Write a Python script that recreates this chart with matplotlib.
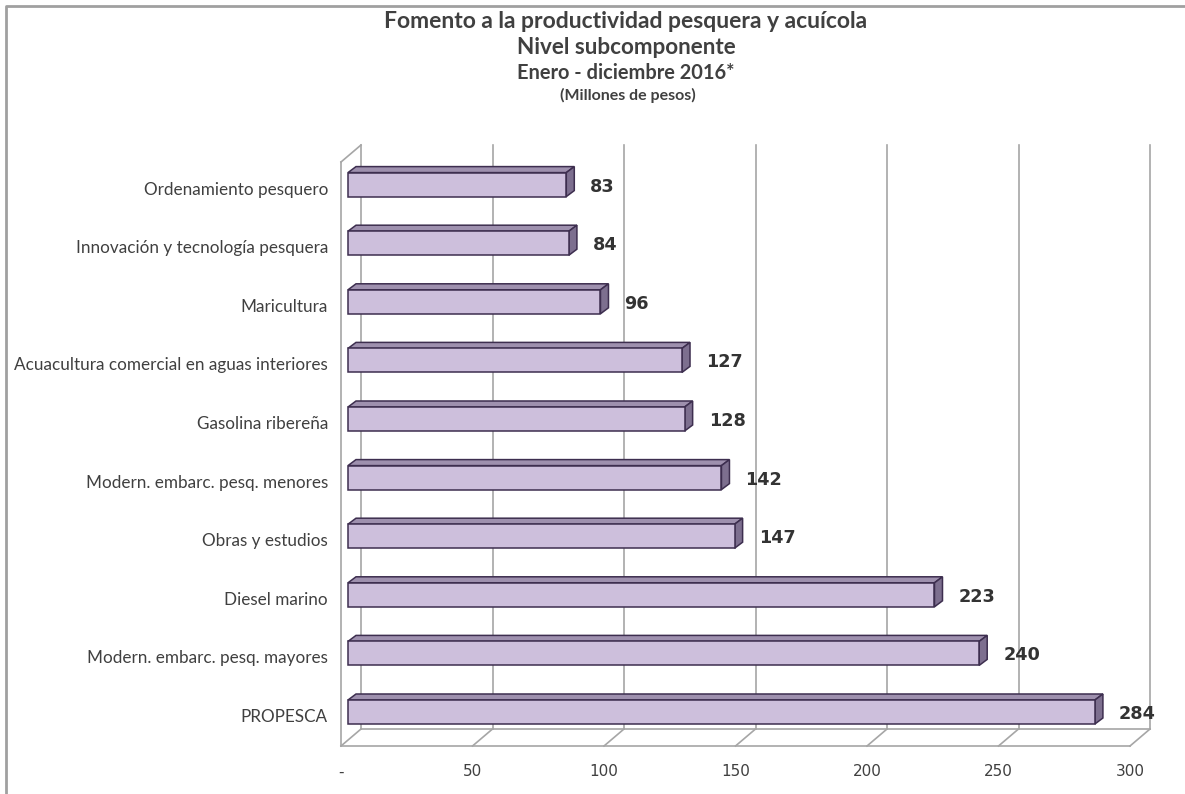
import matplotlib
matplotlib.use('Agg')
import matplotlib.pyplot as plt
from matplotlib.patches import Polygon, Rectangle
from matplotlib.lines import Line2D

categories = ["PROPESCA", "Modern. embarc. pesq. mayores", "Diesel marino",
              "Obras y estudios", "Modern. embarc. pesq. menores", "Gasolina ribereña",
              "Acuacultura comercial en aguas interiores", "Maricultura",
              "Innovación y tecnología pesquera", "Ordenamiento pesquero"]
values = [284, 240, 223, 147, 142, 128, 127, 96, 84, 83]
ticks = [0, 50, 100, 150, 200, 250, 300]
tick_labels = ["-", "50", "100", "150", "200", "250", "300"]
title_lines = ["Fomento a la productividad pesquera y acuícola", "Nivel subcomponente",
               "Enero - diciembre 2016*", "(Millones de pesos)"]

W, H = 1185, 794
fig = plt.figure(figsize=(W / 100, H / 100), dpi=100)
ax = fig.add_axes([0, 0, 1, 1])
sx = 2.63   # px per value unit
sy = 58.6   # px per category
x0px, y0px = 341, 712
ax.set_xlim(-x0px / sx, (W - x0px) / sx)
ax.set_ylim((y0px - H) / sy, y0px / sy)
ax.axis('off')

def px(d):
    return d / sx

def py(d):
    return d / sy

grid_c = '#a6a6a6'
DX, DY = px(20), py(17)
yf = py(y0px - 746)
yb = yf + DY
yt = py(y0px - 145)
xmax = ticks[-1]

# walls / grid
for t in ticks:
    ax.plot([t + DX, t + DX], [yb, yt], color=grid_c, lw=1.2, zorder=1)
    ax.plot([t, t + DX], [yf, yb], color=grid_c, lw=1.2, zorder=1)
ax.plot([0, xmax], [yf, yf], color=grid_c, lw=1.2, zorder=1)
ax.plot([DX, xmax + DX], [yb, yb], color=grid_c, lw=1.2, zorder=1)
ax.plot([0, 0], [yf, yt - DY], color=grid_c, lw=1.2, zorder=1)
ax.plot([0, DX], [yt - DY, yt], color=grid_c, lw=1.2, zorder=1)

# bars
off = px(7)
h = py(24)
ddx, ddy = px(8), py(6)
edge = '#3d2e4f'
for i, (c, v) in enumerate(zip(categories, values)):
    y = i
    ax.add_patch(Polygon([(off, y + h / 2), (off + v, y + h / 2),
                          (off + v + ddx, y + h / 2 + ddy), (off + ddx, y + h / 2 + ddy)],
                         closed=True, fc='#9e90ae', ec=edge, lw=1.1, zorder=3))
    ax.add_patch(Polygon([(off + v, y - h / 2), (off + v + ddx, y - h / 2 + ddy),
                          (off + v + ddx, y + h / 2 + ddy), (off + v, y + h / 2)],
                         closed=True, fc='#7d6f8f', ec=edge, lw=1.1, zorder=3))
    ax.add_patch(Rectangle((off, y - h / 2), v, h, fc='#cdbfdc', ec=edge, lw=1.1, zorder=4))
    ax.text(off + v + px(24), y - py(2), f"{v}", ha='left', va='center',
            fontsize=12.7, fontweight='bold', color='#333333', family='DejaVu Sans', zorder=5)
    ax.text(px(-13), y - py(5), c, ha='right', va='center', fontsize=12.3,
            color='#404040', family=['Lato', 'DejaVu Sans'])

for t, lab in zip(ticks, tick_labels):
    ax.text(t, py(y0px - 772), lab, ha='center', va='center', fontsize=11,
            color='#404040', family=['Liberation Sans Narrow', 'DejaVu Sans'])

# titles
tc = '#404040'
fig.text(626 / W, 1 - 22 / H, title_lines[0], ha='center', va='center', fontsize=16.5,
         fontweight='bold', color=tc, family=['Lato', 'DejaVu Sans'])
fig.text(626 / W, 1 - 48 / H, title_lines[1], ha='center', va='center', fontsize=16.2,
         fontweight='bold', color=tc, family=['Lato', 'DejaVu Sans'])
fig.text(626 / W, 1 - 73 / H, title_lines[2], ha='center', va='center', fontsize=14.4,
         fontweight='bold', color=tc, family=['Lato', 'DejaVu Sans'])
fig.text(628 / W, 1 - 95 / H, title_lines[3], ha='center', va='center', fontsize=11.5,
         fontweight='bold', color=tc, family=['Lato', 'DejaVu Sans'])

# outer frame: top and left edges only
fig.lines.append(Line2D([6 / W, 6 / W, 1], [0, 1 - 6 / H, 1 - 6 / H], transform=fig.transFigure,
                        color='#a0a0a0', lw=2))

fig.savefig('out.png', dpi=100)
